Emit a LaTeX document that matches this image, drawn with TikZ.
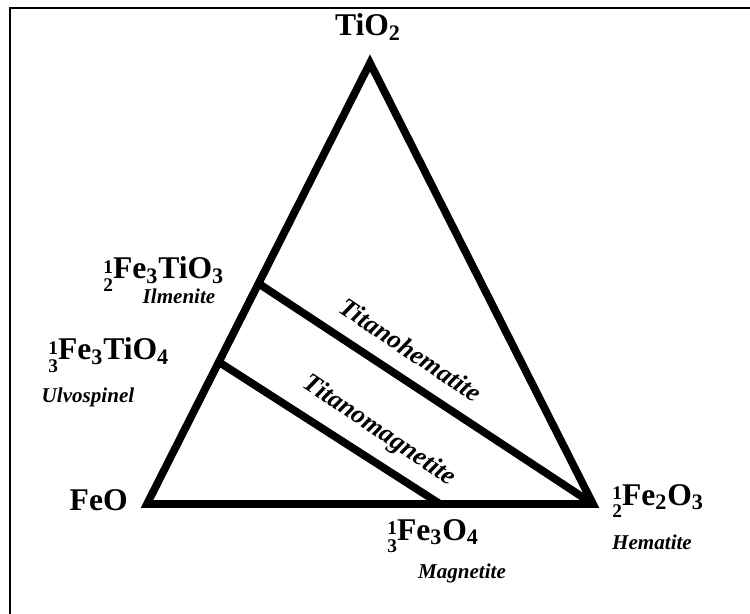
\documentclass[tikz,border=0pt]{standalone}
\usepackage{fontspec}
\setmainfont{Liberation Serif}
\usetikzlibrary{calc}
\newcommand\fr[2]{\raisebox{-7pt}{\fontsize{11}{9.5}\selectfont\shortstack{#1\\#2}}}
\begin{document}
\begin{tikzpicture}[x=0.02cm,y=-0.02cm,
  frame/.style={line width=1.6pt},
  edge/.style={line width=4.4pt,line join=miter},
  formula/.style={inner sep=0pt,font=\bfseries\fontsize{18}{20}\selectfont},
  mineral/.style={inner sep=0pt,font=\bfseries\itshape\fontsize{12}{13}\selectfont},
  series/.style={inner sep=0pt,font=\bfseries\itshape\fontsize{15}{16}\selectfont}]
\useasboundingbox (0,0) rectangle (750,614);
% frame (left and top)
\coordinate (fbl) at (10,614);
\coordinate (ftl) at (10,8);
\coordinate (ftr) at (750,8);
\draw[frame] (fbl) -- (ftl) -- (ftr);
% triangle
\coordinate (ti) at (370,63);
\coordinate (feo) at (147,504);
\coordinate (hem) at (593,504);
\coordinate (ilm) at ($(ti)!0.5!(feo)$);
\coordinate (ulv) at ($(ti)!0.678!(feo)$);
\coordinate (mag) at ($(feo)!0.657!(hem)$);
\draw[edge] (ti) -- (feo) -- (hem) -- cycle;
\draw[edge] (ilm) -- (hem);
\draw[edge] (ulv) -- (mag);
% labels
\node[formula,anchor=base] (lti) at (368,36) {TiO\textsubscript{2}};
\node[formula,anchor=base west] (lilm) at (103,279) {\fr{1}{2}Fe\textsubscript{3}TiO\textsubscript{3}};
\node[mineral,anchor=base] (nilm) at (179,304) {Ilmenite};
\node[formula,anchor=base west] (lulv) at (48,360) {\fr{1}{3}Fe\textsubscript{3}TiO\textsubscript{4}};
\node[mineral,anchor=base] (nulv) at (88,403) {Ulvospinel};
\node[formula,anchor=base east] (lfeo) at (128,510) {FeO};
\node[formula,anchor=base west] (lmag) at (387,540) {\fr{1}{3}Fe\textsubscript{3}O\textsubscript{4}};
\node[mineral,anchor=base] (nmag) at (462,578) {Magnetite};
\node[formula,anchor=base west] (lhem) at (612,505) {\fr{1}{2}Fe\textsubscript{2}O\textsubscript{3}};
\node[mineral,anchor=base] (nhem) at (652,549) {Hematite};
\node[series,rotate=-34] (th) at (411,350) {Titanohematite};
\node[series,rotate=-34] (tm) at (379,431) {Titanomagnetite};
\end{tikzpicture}
\end{document}
